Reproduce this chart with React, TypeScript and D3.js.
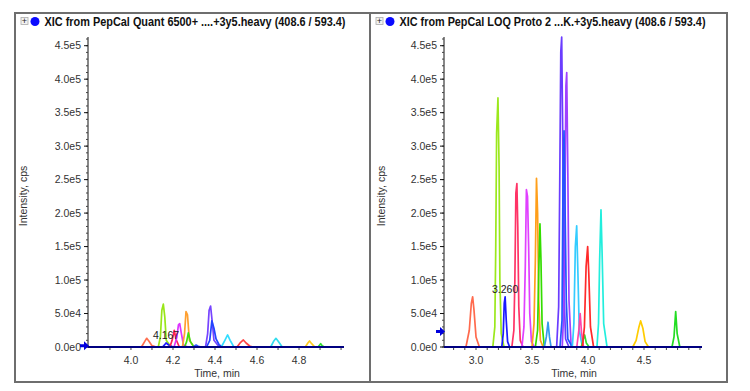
import { scaleLinear, line, format, range } from "d3";

const width = 750;
const height = 391;

const leftTitle = "XIC from PepCal Quant 6500+ ....+3y5.heavy (408.6 / 593.4)";
const rightTitle = "XIC from PepCal LOQ Proto 2 ...K.+3y5.heavy (408.6 / 593.4)";

const yTicks = [0, 50000, 100000, 150000, 200000, 250000, 300000, 350000, 400000, 450000];
const leftXTicks = [4.0, 4.2, 4.4, 4.6, 4.8];
const rightXTicks = [3.0, 3.5, 4.0, 4.5];

// [time (min), intensity (cps)]
const leftColors = [
  "#ff7050", "#99e619", "#1a1aff", "#ff2255", "#dd33ff", "#ffa030", "#44dd11", "#3355ff",
  "#7744ff", "#2244ff", "#33ddff", "#ff4444", "#33ddee", "#ffcc22", "#33dd33",
];
const leftTraces: [number, number][][] = [
  [[4.05, 0], [4.065, 8000], [4.075, 13000], [4.085, 9000], [4.1, 2000], [4.12, 0]],
  [[4.13, 0], [4.14, 15000], [4.147, 55000], [4.154, 64000], [4.161, 45000], [4.168, 10000], [4.19, 0]],
  [[4.15, 0], [4.162, 4000], [4.167, 6000], [4.18, 3000], [4.2, 0]],
  [[4.185, 0], [4.196, 10000], [4.206, 25000], [4.214, 12000], [4.23, 0]],
  [[4.205, 0], [4.218, 14000], [4.226, 33000], [4.232, 35000], [4.24, 20000], [4.25, 3000], [4.27, 0]],
  [[4.245, 0], [4.255, 20000], [4.262, 53000], [4.269, 48000], [4.278, 10000], [4.3, 0]],
  [[4.255, 0], [4.265, 8000], [4.273, 21000], [4.283, 8000], [4.3, 0]],
  [[4.295, 0], [4.305, 2000], [4.31, 3000], [4.32, 1000], [4.335, 0]],
  [[4.355, 0], [4.365, 20000], [4.372, 55000], [4.379, 61000], [4.386, 40000], [4.395, 10000], [4.42, 0]],
  [[4.36, 0], [4.375, 10000], [4.385, 39000], [4.395, 28000], [4.405, 12000], [4.42, 3000], [4.44, 0]],
  [[4.43, 0], [4.447, 10000], [4.46, 18000], [4.472, 10000], [4.49, 0]],
  [[4.505, 0], [4.522, 7000], [4.535, 10500], [4.548, 6000], [4.565, 1500], [4.58, 0]],
  [[4.665, 0], [4.68, 9000], [4.69, 13000], [4.7, 9000], [4.72, 0]],
  [[4.83, 0], [4.842, 6000], [4.85, 9000], [4.86, 5000], [4.875, 0]],
  [[4.89, 0], [4.898, 3000], [4.903, 5000], [4.91, 2000], [4.92, 0]],
];

const rightColors = [
  "#ff6a4d", "#9be81c", "#1a1aff", "#ff3366", "#e040ff", "#ff9f1a", "#33dd00", "#3399ee",
  "#6a3cff", "#a040ff", "#2255ff", "#33ccff", "#ff44aa", "#33dd33", "#ff2a2a", "#22eedd",
  "#ffcc00", "#22dd22",
];
const rightTraces: [number, number][][] = [
  [[2.91, 0], [2.94, 25000], [2.958, 65000], [2.97, 75000], [2.982, 55000], [3.0, 15000], [3.03, 0]],
  [[3.15, 0], [3.168, 30000], [3.176, 145000], [3.184, 320000], [3.196, 372000], [3.206, 270000], [3.213, 100000], [3.225, 20000], [3.25, 0]],
  [[3.23, 0], [3.243, 20000], [3.252, 65000], [3.26, 75000], [3.27, 40000], [3.282, 8000], [3.3, 0]],
  [[3.32, 0], [3.338, 25000], [3.347, 100000], [3.356, 230000], [3.365, 244000], [3.373, 180000], [3.382, 60000], [3.395, 10000], [3.42, 0]],
  [[3.41, 0], [3.428, 30000], [3.44, 120000], [3.45, 235000], [3.46, 225000], [3.47, 150000], [3.48, 50000], [3.495, 8000], [3.52, 0]],
  [[3.5, 0], [3.518, 35000], [3.53, 130000], [3.54, 252000], [3.55, 200000], [3.56, 70000], [3.575, 10000], [3.6, 0]],
  [[3.53, 0], [3.55, 25000], [3.56, 110000], [3.571, 184000], [3.58, 130000], [3.59, 35000], [3.61, 0]],
  [[3.61, 0], [3.628, 15000], [3.643, 37000], [3.656, 15000], [3.67, 0]],
  [[3.72, 0], [3.738, 60000], [3.748, 250000], [3.757, 440000], [3.765, 463000], [3.774, 320000], [3.784, 90000], [3.8, 12000], [3.83, 0]],
  [[3.77, 0], [3.784, 55000], [3.794, 210000], [3.803, 390000], [3.81, 410000], [3.82, 260000], [3.83, 70000], [3.85, 0]],
  [[3.75, 0], [3.768, 40000], [3.777, 250000], [3.786, 323000], [3.795, 210000], [3.806, 70000], [3.82, 12000], [3.86, 0]],
  [[3.86, 0], [3.874, 35000], [3.887, 150000], [3.899, 181000], [3.91, 110000], [3.922, 25000], [3.95, 0]],
  [[3.9, 0], [3.918, 25000], [3.93, 50000], [3.942, 22000], [3.96, 0]],
  [[3.94, 0], [3.958, 12000], [3.97, 18000], [3.985, 6000], [4.01, 0]],
  [[3.95, 0], [3.968, 30000], [3.983, 120000], [3.997, 150000], [4.007, 110000], [4.022, 30000], [4.05, 0]],
  [[4.08, 0], [4.094, 35000], [4.104, 130000], [4.116, 205000], [4.126, 140000], [4.14, 35000], [4.17, 0]],
  [[4.4, 0], [4.43, 10000], [4.455, 30000], [4.47, 39000], [4.49, 28000], [4.51, 8000], [4.54, 0]],
  [[4.75, 0], [4.768, 15000], [4.783, 53000], [4.796, 20000], [4.82, 0]],
];

const leftLabel = { time: 4.167, intensity: 6000, text: "4.167" };
const rightLabel = { time: 3.26, intensity: 75000, text: "3.260" };

const plotTop = 37;
const plotBottom = 347;
const fontFamily = "'Liberation Sans', Arial, sans-serif";
const textColor = "#333";

const yScale = scaleLinear().domain([0, 463000]).range([plotBottom, plotTop]);
const yFmt = (v: number) => format(".1e")(v).replace("+", "");

type PanelProps = {
  frameX: number;
  title: string;
  titleWidth: number;
  xDomain: [number, number];
  xRange: [number, number];
  xTicks: number[];
  traces: [number, number][][];
  colors: string[];
  label: { time: number; intensity: number; text: string };
  markerValue: number;
  yLabelX: number;
};

function Panel({ frameX, title, titleWidth, xDomain, xRange, xTicks, traces, colors, label, markerValue, yLabelX }: PanelProps) {
  const xScale = scaleLinear().domain(xDomain).range(xRange);
  const minorX = range(Math.ceil(xDomain[0] * 10) / 10, xDomain[1], 0.1);
  const minorY = range(0, 463000, 10000);
  const path = line<[number, number]>()
    .x((d) => xScale(d[0]))
    .y((d) => yScale(d[1]));
  const axisX = xRange[0] - 2;

  return (
    <g fontFamily={fontFamily}>
      {/* title */}
      <rect x={frameX + 6} y={17.5} width={7} height={7} fill="#f2f2f2" stroke="#aaa" strokeWidth={0.8} />
      <text x={frameX + 9.5} y={24} textAnchor="middle" fontSize={9} fill="#222">+</text>
      <circle cx={frameX + 20} cy={21.5} r={4.5} fill="#0a0aff" />
      <text
        x={frameX + 29.5}
        y={26}
        fontSize={12}
        fontWeight="bold"
        fill="#111"
        textLength={titleWidth}
        lengthAdjust="spacingAndGlyphs">
        {title}
      </text>

      {/* traces */}
      {traces.map((t, i) => (
        <path key={i} d={path(t) ?? ""} fill="none" stroke={colors[i]} strokeWidth={1.7} strokeLinejoin="round" />
      ))}

      {/* y axis */}
      <line x1={axisX} x2={axisX} y1={plotTop} y2={plotBottom} stroke="#111" strokeWidth={1} />
      {minorY.map((v) => (
        <line key={v} x1={axisX - 2} x2={axisX} y1={yScale(v)} y2={yScale(v)} stroke="#444" strokeWidth={1} />
      ))}
      {yTicks.map((v) => (
        <g key={v}>
          <line x1={axisX - 4} x2={axisX} y1={yScale(v)} y2={yScale(v)} stroke="#111" strokeWidth={1} />
          <text x={axisX - 7} y={yScale(v)} dy="0.35em" textAnchor="end" fontSize={10.5} fill={textColor}>
            {yFmt(v)}
          </text>
        </g>
      ))}
      <text
        transform={`translate(${yLabelX},${(plotTop + plotBottom) / 2 + 4}) rotate(-90)`}
        textAnchor="middle"
        fontSize={10.5}
        fill={textColor}>
        Intensity, cps
      </text>

      {/* x axis */}
      {minorX.map((v) => (
        <line key={v} x1={xScale(v)} x2={xScale(v)} y1={plotBottom} y2={plotBottom + 3} stroke="#444" strokeWidth={1} />
      ))}
      <line x1={axisX} x2={xRange[1]} y1={plotBottom} y2={plotBottom} stroke="#000080" strokeWidth={2} />
      {xTicks.map((v) => (
        <text key={v} x={xScale(v)} y={364} textAnchor="middle" fontSize={10.5} fill={textColor}>
          {v.toFixed(1)}
        </text>
      ))}
      <text x={(xRange[0] + xRange[1]) / 2} y={377} textAnchor="middle" fontSize={10.5} fill={textColor}>
        Time, min
      </text>

      {/* peak label */}
      <text x={xScale(label.time)} y={yScale(label.intensity) - 4} textAnchor="middle" fontSize={10.5} fill="#222">
        {label.text}
      </text>

      {/* marker arrow */}
      <path
        transform={`translate(${axisX + 1},${yScale(markerValue)})`}
        d="M-9,-1.5 L-5,-1.5 L-5,-4.5 L0,0 L-5,4.5 L-5,1.5 L-9,1.5 Z"
        fill="#0000dd"
      />
    </g>
  );
}

export default function App() {
  return (
    <div style={{ position: "absolute", left: 0, top: 0 }}>
      <svg width={width} height={height} style={{ display: "block", background: "#fff" }}>
        <rect x={15} y={13} width={712} height={369} fill="none" stroke="#6e6e6e" strokeWidth={2} />
        <line x1={370} x2={370} y1={13} y2={382} stroke="#6e6e6e" strokeWidth={2} />
        <Panel
          frameX={15}
          title={leftTitle}
          titleWidth={301}
          xDomain={[3.805, 5.014]}
          xRange={[90, 344]}
          xTicks={leftXTicks}
          traces={leftTraces}
          colors={leftColors}
          label={leftLabel}
          markerValue={2000}
          yLabelX={27}
        />
        <Panel
          frameX={370}
          title={rightTitle}
          titleWidth={306}
          xDomain={[2.732, 5.018]}
          xRange={[446, 702]}
          xTicks={rightXTicks}
          traces={rightTraces}
          colors={rightColors}
          label={rightLabel}
          markerValue={23000}
          yLabelX={385}
        />
      </svg>
    </div>
  );
}
